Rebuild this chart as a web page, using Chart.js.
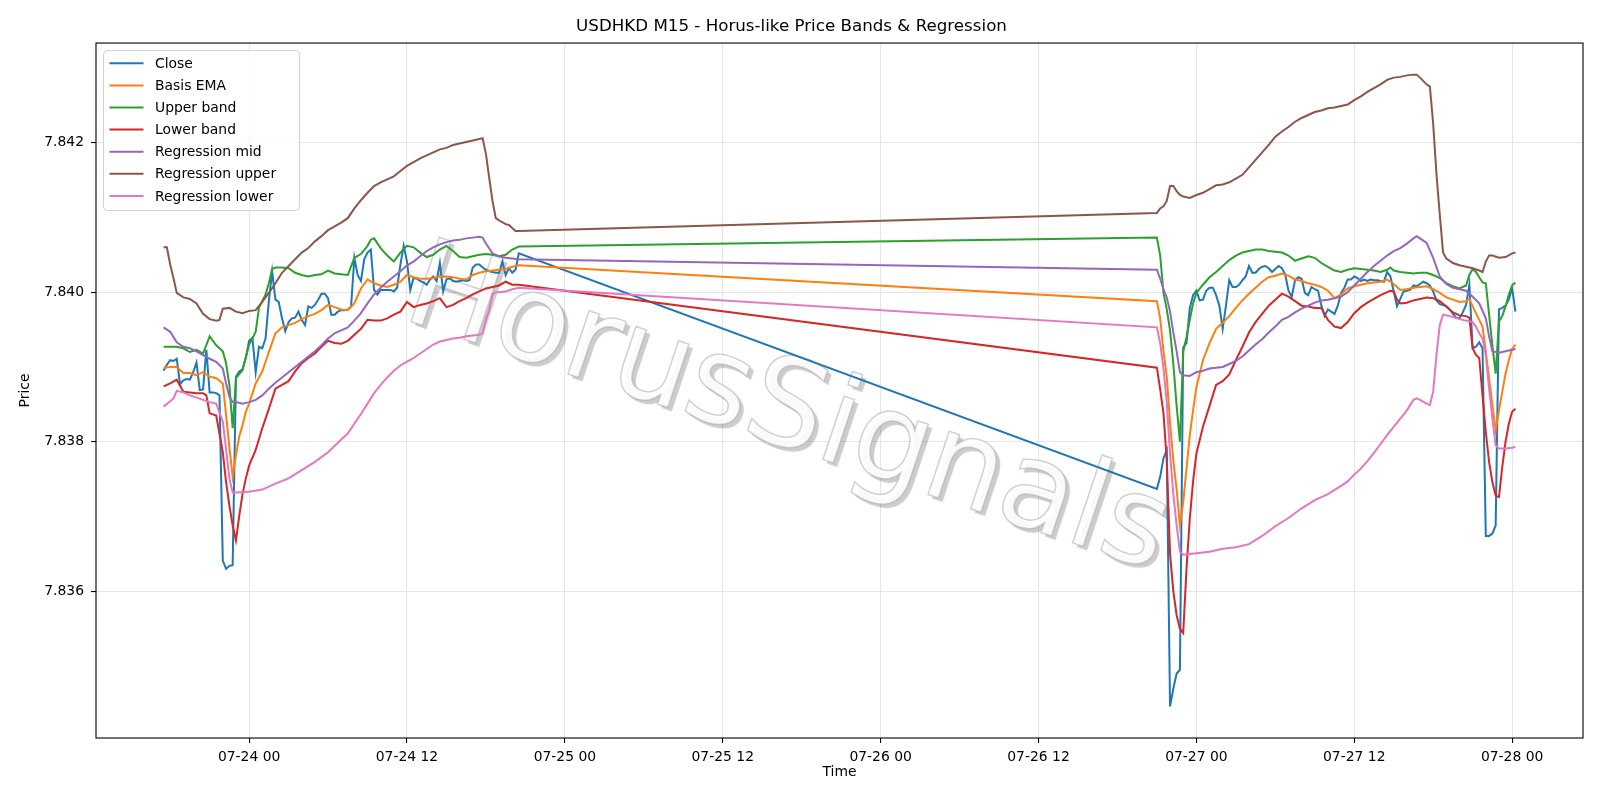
<!DOCTYPE html>
<html>
<head>
<meta charset="utf-8">
<title>USDHKD M15 - Horus-like Price Bands &amp; Regression</title>
<script src="https://cdn.jsdelivr.net/npm/chart.js@4.4.1/dist/chart.umd.min.js"></script>
<style>
  html, body { margin: 0; padding: 0; background: #fff; }
  #wrap { width: 1600px; height: 800px; }
</style>
</head>
<body>
<div id="wrap"><canvas id="chart" width="1600" height="800"></canvas></div>
<script>
// Time is in hours counted from 07-24 00:00, [hour, price]
const closeData = [
  [-6.5,7.83895],[-6.25,7.83903],[-6,7.83909],[-5.75,7.83908],[-5.5,7.83911],[-5.25,7.83877],[-5,7.83882],[-4.75,7.83884],
  [-4.5,7.83883],[-4.25,7.83893],[-4,7.83906],[-3.75,7.83869],[-3.5,7.8387],[-3.25,7.83923],[-3,7.83866],[-2.75,7.83866],
  [-2.5,7.83865],[-2.25,7.83862],[-2,7.83641],[-1.75,7.8363],[-1.5,7.83634],[-1.25,7.83635],[-1,7.83887],[-0.75,7.83894],
  [-0.5,7.83897],[-0.25,7.83912],[0,7.83935],[0.25,7.83939],[0.5,7.83893],[0.75,7.83927],[1,7.83925],[1.25,7.83938],
  [1.5,7.83988],[1.75,7.84028],[2,7.8399],[2.25,7.83987],[2.5,7.83965],[2.75,7.83948],[3,7.8396],[3.25,7.83965],
  [3.5,7.83966],[3.75,7.83974],[4,7.83963],[4.25,7.83956],[4.5,7.83981],[4.75,7.83979],[5,7.83983],[5.25,7.8399],
  [5.5,7.83998],[5.75,7.83998],[6,7.83992],[6.25,7.8397],[6.5,7.8397],[6.75,7.83974],[7,7.83976],[7.25,7.83976],
  [7.5,7.83977],[7.75,7.83981],[8,7.84046],[8.25,7.84023],[8.5,7.84015],[8.75,7.84044],[9,7.84053],[9.25,7.84057],
  [9.5,7.84003],[9.75,7.83997],[10,7.84003],[10.25,7.84003],[10.5,7.84003],[10.75,7.84003],[11,7.84001],[11.25,7.84006],
  [11.5,7.84037],[11.75,7.84062],[12,7.84041],[12.25,7.84003],[12.5,7.84019],[12.75,7.84018],[13,7.84015],[13.25,7.84013],
  [13.5,7.8401],[13.75,7.84017],[14,7.84021],[14.25,7.84015],[14.5,7.84039],[14.75,7.84001],[15,7.84017],[15.25,7.84019],
  [15.5,7.84015],[15.75,7.84014],[16,7.84015],[16.25,7.84016],[16.5,7.84015],[16.75,7.84016],[17,7.84033],[17.25,7.84037],
  [17.5,7.84037],[17.75,7.84033],[18,7.8403],[18.25,7.84028],[18.5,7.84027],[18.75,7.84026],[19,7.84026],[19.25,7.84041],
  [19.5,7.84023],[19.75,7.84032],[20,7.84026],[20.25,7.8403],[20.5,7.84052],
  [69,7.83737],[69.25,7.83753],[69.5,7.83778],[69.75,7.83789],[70,7.83446],[70.25,7.8347],[70.5,7.8349],[70.75,7.83495],
  [71,7.83926],[71.25,7.83932],[71.5,7.83979],[71.75,7.83996],[72,7.84002],[72.25,7.83989],[72.5,7.8399],[72.75,7.84002],
  [73,7.84006],[73.25,7.84006],[73.5,7.83996],[73.75,7.83982],[74,7.83951],[74.25,7.83982],[74.5,7.84016],[74.75,7.84007],
  [75,7.84007],[75.25,7.8401],[75.5,7.84016],[75.75,7.84021],[76,7.84035],[76.25,7.84026],[76.5,7.84026],[76.75,7.84031],
  [77,7.84034],[77.25,7.84035],[77.5,7.84032],[77.75,7.84027],[78,7.84031],[78.25,7.84035],[78.5,7.84032],[78.75,7.84024],
  [79,7.84002],[79.25,7.83994],[79.5,7.84016],[79.75,7.8402],[80,7.84018],[80.25,7.83999],[80.5,7.83996],[80.75,7.84007],
  [81,7.84004],[81.25,7.84002],[81.5,7.83982],[81.75,7.83968],[82,7.83977],[82.25,7.83974],[82.5,7.83971],[82.75,7.83982],
  [83,7.83999],[83.25,7.84006],[83.5,7.84017],[83.75,7.84017],[84,7.84021],[84.25,7.84019],[84.5,7.84015],[84.75,7.84017],
  [85,7.84015],[85.25,7.84017],[85.5,7.84016],[85.75,7.84016],[86,7.84015],[86.25,7.84014],[86.5,7.84027],[86.75,7.84021],
  [87,7.84001],[87.25,7.83981],[87.5,7.83991],[87.75,7.84001],[88,7.84002],[88.25,7.84003],[88.5,7.84009],[88.75,7.84008],
  [89,7.84011],[89.25,7.84014],[89.5,7.84012],[89.75,7.84009],[90,7.84001],[90.25,7.83989],[90.5,7.83984],[90.75,7.83983],
  [91,7.83981],[91.25,7.83977],[91.5,7.83971],[91.75,7.83966],[92,7.83965],[92.25,7.83973],[92.5,7.83983],[92.75,7.8401],
  [93,7.83925],[93.25,7.83927],[93.5,7.83933],[93.75,7.83925],[94,7.83674],[94.25,7.83674],[94.5,7.83677],[94.75,7.83688],
  [95,7.83977],[95.25,7.83979],[95.5,7.83982],[95.75,7.8399],[96,7.84006],[96.25,7.83974]
];

const emaData = [
  [-6.5,7.83899],[-6,7.839],[-5.5,7.839],[-5,7.83892],[-4.5,7.83892],[-4,7.83889],[-3.5,7.83893],[-3,7.83887],
  [-2.5,7.83885],[-2,7.83878],[-1.75,7.83836],[-1.5,7.83793],[-1.25,7.83753],[-1,7.83782],[-0.75,7.83807],[-0.5,7.83822],
  [-0.25,7.8384],[0,7.83851],[0.5,7.83878],[1,7.83894],[1.5,7.8392],[2,7.83945],[2.5,7.83953],[3,7.83956],
  [3.5,7.83959],[4,7.83964],[4.5,7.83968],[5,7.83971],[5.5,7.83976],[6,7.83983],[6.5,7.8398],[7,7.83977],
  [7.5,7.83976],[8,7.83985],[8.5,7.84005],[9,7.84017],[9.5,7.84012],[10,7.84009],[10.5,7.84007],[11,7.8401],
  [11.5,7.84014],[12,7.84023],[12.5,7.8402],[13,7.84018],[13.5,7.84018],[14,7.84019],[14.5,7.84021],[15,7.84021],
  [15.5,7.8402],[16,7.84018],[16.5,7.84017],[17,7.84023],[17.5,7.84026],[18,7.84028],[18.5,7.84029],[19,7.8403],
  [19.5,7.84031],[20,7.84034],[20.5,7.84036],
  [69,7.83988],[69.25,7.83965],[69.5,7.83921],[69.75,7.83887],[70,7.83825],[70.25,7.83775],[70.5,7.83736],[70.75,7.83688],
  [71,7.83719],[71.25,7.83764],[71.5,7.83809],[71.75,7.83842],[72,7.83873],[72.5,7.83909],[73,7.83932],[73.5,7.83951],
  [74,7.83959],[74.5,7.83968],[75,7.83979],[75.5,7.83989],[76,7.83998],[76.5,7.84006],[77,7.84014],[77.5,7.8402],
  [78,7.84022],[78.5,7.84025],[79,7.84022],[79.5,7.84017],[80,7.84015],[80.5,7.84012],[81,7.8401],[81.5,7.84007],
  [82,7.84002],[82.5,7.83992],[83,7.83997],[83.5,7.84005],[84,7.84008],[84.5,7.8401],[85,7.84012],[85.5,7.84013],
  [86,7.84014],[86.5,7.84017],[87,7.84011],[87.5,7.84003],[88,7.84004],[88.5,7.84006],[89,7.84007],[89.5,7.84008],
  [90,7.84004],[90.5,7.83999],[91,7.83993],[91.5,7.8399],[92,7.83987],[92.5,7.83988],[92.75,7.83991],[93,7.83981],
  [93.25,7.83972],[93.5,7.83963],[93.75,7.83954],[94,7.83921],[94.25,7.83885],[94.5,7.83849],[94.75,7.83815],[95,7.83842],
  [95.25,7.83867],[95.5,7.83891],[95.75,7.83909],[96,7.83924],[96.25,7.8393]
];

const upperData = [
  [-6.5,7.83927],[-6,7.83927],[-5.5,7.83927],[-5,7.83925],[-4.5,7.8392],[-4,7.83923],[-3.5,7.83918],[-3,7.83941],
  [-2.5,7.83929],[-2,7.83921],[-1.75,7.83905],[-1.5,7.83876],[-1.25,7.83818],[-1,7.83885],[-0.5,7.83896],[0,7.8393],
  [0.25,7.83938],[0.5,7.83947],[0.75,7.83979],[1,7.83988],[1.25,7.83997],[1.5,7.84012],[1.75,7.84031],[2,7.84033],
  [2.5,7.84033],[3,7.84032],[3.5,7.84026],[4,7.84023],[4.5,7.84021],[5,7.84023],[5.5,7.84024],[6,7.84029],
  [6.5,7.84025],[7,7.84024],[7.5,7.84023],[8,7.84046],[8.5,7.84051],[9,7.84062],[9.25,7.8407],[9.5,7.84072],
  [10,7.84059],[10.5,7.84049],[11,7.84041],[11.5,7.84053],[12,7.84062],[12.5,7.8406],[13,7.84053],[13.5,7.84047],
  [14,7.8405],[14.5,7.84057],[15,7.84062],[15.5,7.84055],[16,7.84047],[16.5,7.84046],[17,7.84048],[17.5,7.8405],
  [18,7.84051],[18.5,7.8405],[19,7.84048],[19.5,7.8405],[20,7.84057],[20.5,7.84061],
  [69,7.84073],[69.25,7.84049],[69.5,7.83999],[69.75,7.83977],[70,7.83949],[70.25,7.83904],[70.5,7.83848],[70.75,7.838],
  [71,7.83921],[71.25,7.8394],[71.5,7.83963],[71.75,7.83985],[72,7.83999],[72.5,7.8401],[73,7.8402],[73.5,7.84027],
  [74,7.84035],[74.5,7.84043],[75,7.84049],[75.5,7.84053],[76,7.84055],[76.5,7.84057],[77,7.84057],[77.5,7.84055],
  [78,7.84054],[78.5,7.84053],[79,7.84049],[79.5,7.84042],[80,7.84045],[80.5,7.84048],[81,7.84046],[81.5,7.84039],
  [82,7.84034],[82.5,7.84029],[83,7.84027],[83.5,7.8403],[84,7.84032],[84.5,7.84031],[85,7.8403],[85.5,7.84029],
  [86,7.84027],[86.5,7.8403],[86.75,7.84033],[87,7.84029],[87.5,7.84027],[88,7.84026],[88.5,7.84025],[89,7.84026],
  [89.5,7.84026],[90,7.84023],[90.5,7.84019],[91,7.84012],[91.5,7.84008],[92,7.84005],[92.5,7.84009],[92.75,7.84023],
  [93,7.84031],[93.25,7.84027],[93.5,7.8402],[93.75,7.84013],[94,7.84012],[94.25,7.8397],[94.5,7.83929],[94.75,7.83891],
  [95,7.83961],[95.25,7.83968],[95.5,7.83981],[95.75,7.83997],[96,7.84009],[96.25,7.84013]
];

const lowerData = [
  [-6.5,7.83874],[-6,7.83878],[-5.5,7.83883],[-5,7.83867],[-4.5,7.83866],[-4,7.83865],[-3.5,7.83865],[-3.25,7.83862],
  [-3,7.83838],[-2.5,7.83835],[-2,7.83786],[-1.75,7.83746],[-1.5,7.83715],[-1.25,7.83688],[-1,7.83668],[-0.75,7.83701],
  [-0.5,7.8373],[-0.25,7.83751],[0,7.83768],[0.5,7.83789],[1,7.83818],[1.5,7.83844],[2,7.83871],[2.5,7.83876],
  [3,7.83881],[3.5,7.83894],[4,7.83905],[4.5,7.83912],[5,7.83918],[5.5,7.83927],[6,7.83935],[6.5,7.83932],
  [7,7.83931],[7.5,7.83935],[8,7.83943],[8.5,7.83951],[9,7.83963],[9.5,7.83962],[10,7.83962],[10.5,7.83965],
  [11,7.8397],[11.5,7.83974],[12,7.83987],[12.5,7.8398],[13,7.83983],[13.5,7.83985],[14,7.83988],[14.5,7.83992],
  [15,7.8398],[15.5,7.83983],[16,7.83988],[16.5,7.83992],[17,7.83997],[17.5,7.84001],[18,7.84005],[18.5,7.84007],
  [19,7.84009],[19.5,7.84014],[20,7.8401],[20.5,7.8401],
  [69,7.83899],[69.25,7.8387],[69.5,7.83838],[69.75,7.83775],[70,7.8365],[70.25,7.836],[70.5,7.83568],[70.75,7.8355],
  [71,7.83544],[71.25,7.8363],[71.5,7.83697],[71.75,7.83747],[72,7.83784],[72.5,7.8382],[73,7.83848],[73.5,7.83876],
  [74,7.83881],[74.5,7.8389],[75,7.83909],[75.5,7.83927],[76,7.83946],[76.5,7.8396],[77,7.83971],[77.5,7.83982],
  [78,7.8399],[78.5,7.83998],[79,7.83994],[79.5,7.83988],[80,7.83982],[80.5,7.83981],[81,7.83979],[81.5,7.83979],
  [82,7.83963],[82.5,7.83954],[83,7.83952],[83.5,7.8396],[84,7.83972],[84.5,7.8398],[85,7.83986],[85.5,7.83991],
  [86,7.83996],[86.5,7.84],[86.75,7.84002],[87,7.84001],[87.25,7.8399],[87.5,7.83985],[88,7.83986],[88.5,7.83989],
  [89,7.83991],[89.5,7.83993],[90,7.83992],[90.5,7.83988],[91,7.83981],[91.5,7.83973],[92,7.83969],[92.5,7.83968],
  [92.75,7.83966],[93,7.83925],[93.25,7.83916],[93.5,7.83912],[93.75,7.83862],[94,7.83813],[94.25,7.83773],[94.5,7.83746],
  [94.75,7.83728],[95,7.83726],[95.25,7.83766],[95.5,7.838],[95.75,7.83824],[96,7.8384],[96.25,7.83844]
];

const regMidData = [
  [-6.5,7.83953],[-6,7.83947],[-5.5,7.83933],[-5,7.83927],[-4.5,7.83925],[-4,7.83921],[-3.5,7.83916],[-3,7.83911],
  [-2.5,7.83907],[-2,7.83898],[-1.75,7.83878],[-1.5,7.8386],[-1.25,7.83853],[-1,7.83853],[-0.5,7.83851],[0,7.83853],
  [0.5,7.83856],[1,7.83862],[1.5,7.83871],[2,7.83879],[2.5,7.83886],[3,7.83893],[3.5,7.839],[4,7.83907],
  [4.5,7.83914],[5,7.83921],[5.5,7.83929],[6,7.83938],[6.5,7.83945],[7,7.83949],[7.5,7.83953],[8,7.83962],
  [8.5,7.83972],[9,7.83985],[9.5,7.83997],[10,7.84006],[10.5,7.84014],[11,7.84021],[11.5,7.84028],[12,7.84036],
  [12.5,7.84041],[13,7.84048],[13.5,7.84055],[14,7.8406],[14.5,7.84064],[15,7.84067],[15.5,7.84069],[16,7.8407],
  [16.5,7.84072],[17,7.84073],[17.5,7.84074],[17.75,7.84073],[18,7.84065],[18.5,7.84052],[19,7.84048],[19.5,7.84046],
  [20,7.84045],[20.5,7.84044],
  [69,7.8403],[69.25,7.84018],[69.5,7.84004],[69.75,7.83993],[70,7.83974],[70.25,7.83946],[70.5,7.83921],[70.75,7.83893],
  [71,7.83889],[71.5,7.83888],[72,7.83893],[72.5,7.83895],[73,7.83898],[73.5,7.83899],[74,7.839],[74.5,7.83904],
  [75,7.83908],[75.5,7.83914],[76,7.83922],[76.5,7.8393],[77,7.83937],[77.5,7.83946],[78,7.83954],[78.5,7.83963],
  [79,7.83967],[79.5,7.83973],[80,7.83978],[80.5,7.83982],[81,7.83986],[81.5,7.83989],[82,7.8399],[82.5,7.83992],
  [83,7.83994],[83.5,7.84],[84,7.84009],[84.5,7.84018],[85,7.84027],[85.5,7.84035],[86,7.84042],[86.5,7.84049],
  [87,7.84055],[87.5,7.84059],[88,7.84065],[88.5,7.84072],[88.75,7.84075],[89,7.84072],[89.5,7.84066],[90,7.84046],
  [90.5,7.84021],[91,7.84011],[91.5,7.84006],[92,7.84004],[92.5,7.84002],[93,7.83994],[93.5,7.83985],[94,7.83965],
  [94.25,7.83941],[94.5,7.83921],[95,7.83919],[95.5,7.83921],[96,7.83923],[96.25,7.83924]
];

const regUpperData = [
  [-6.5,7.8406],[-6.25,7.8406],[-6,7.84037],[-5.75,7.84019],[-5.5,7.83999],[-5,7.83993],[-4.5,7.83991],[-4,7.83985],
  [-3.5,7.83971],[-3,7.83964],[-2.5,7.83962],[-2.25,7.83963],[-2,7.83978],[-1.5,7.83979],[-1,7.83974],[-0.5,7.83972],
  [0,7.83975],[0.5,7.83976],[1,7.83987],[1.5,7.83999],[2,7.84012],[2.5,7.84026],[3,7.84035],[3.5,7.84044],
  [4,7.84053],[4.5,7.84059],[5,7.84068],[5.5,7.84075],[6,7.84083],[6.5,7.84088],[7,7.84093],[7.5,7.84099],
  [8,7.84112],[8.5,7.84123],[9,7.84133],[9.5,7.84142],[10,7.84147],[10.5,7.84151],[11,7.84155],[11.5,7.84162],
  [12,7.84169],[12.5,7.84174],[13,7.84179],[13.5,7.84183],[14,7.84187],[14.5,7.84191],[15,7.84193],[15.5,7.84197],
  [16,7.84199],[16.5,7.84201],[17,7.84203],[17.5,7.84205],[17.75,7.84206],[18,7.84185],[18.25,7.84153],[18.5,7.84122],
  [18.75,7.84099],[19,7.84096],[19.5,7.84091],[19.75,7.8409],[20,7.84086],[20.25,7.84082],[20.5,7.84082],
  [69,7.84106],[69.25,7.84112],[69.5,7.84115],[69.75,7.84122],[70,7.84142],[70.25,7.84142],[70.5,7.84135],[70.75,7.8413],
  [71,7.84128],[71.5,7.84126],[72,7.8413],[72.5,7.84133],[73,7.84138],[73.5,7.84143],[74,7.84144],[74.5,7.84147],
  [75,7.84152],[75.5,7.84157],[76,7.84167],[76.5,7.84177],[77,7.84187],[77.5,7.84197],[78,7.84208],[78.5,7.84215],
  [79,7.84221],[79.5,7.84228],[80,7.84233],[80.5,7.84237],[81,7.84241],[81.5,7.84243],[82,7.84246],[82.5,7.84247],
  [83,7.84249],[83.5,7.84251],[84,7.84257],[84.5,7.84262],[85,7.84268],[85.5,7.84273],[86,7.84278],[86.5,7.84284],
  [87,7.84287],[87.5,7.84288],[88,7.8429],[88.5,7.84291],[88.75,7.84291],[89,7.84287],[89.5,7.84278],[89.75,7.84275],
  [90,7.84225],[90.25,7.84158],[90.5,7.84104],[90.75,7.84053],[91,7.84045],[91.5,7.84039],[92,7.84036],[92.5,7.84034],
  [93,7.84032],[93.5,7.84029],[93.75,7.84027],[94,7.84041],[94.25,7.84049],[94.5,7.84049],[95,7.84046],[95.5,7.84047],
  [96,7.84052],[96.25,7.84053]
];

const regLowerData = [
  [-6.5,7.83847],[-6,7.83854],[-5.75,7.83858],[-5.5,7.83868],[-5,7.83866],[-4.5,7.83862],[-4,7.83859],[-3.5,7.83856],
  [-3,7.83853],[-2.5,7.83851],[-2,7.83827],[-1.75,7.8379],[-1.5,7.83751],[-1.25,7.83732],[-1,7.83732],[0,7.83733],
  [1,7.83736],[2,7.83744],[3,7.83751],[4,7.83762],[5,7.83773],[6,7.83786],[7,7.83803],[7.5,7.83811],
  [8,7.83824],[8.5,7.83837],[9,7.83851],[9.5,7.83865],[10,7.83876],[10.5,7.83886],[11,7.83895],[11.5,7.83902],
  [12,7.83907],[12.5,7.83912],[13,7.83918],[13.5,7.83924],[14,7.8393],[14.5,7.83934],[15,7.83936],[15.5,7.83938],
  [16,7.83939],[16.5,7.83941],[17,7.83942],[17.5,7.83943],[17.75,7.83945],[18,7.83963],[18.25,7.83976],[18.5,7.83997],
  [18.75,7.84],[19,7.84],[19.5,7.84001],[20,7.84004],[20.5,7.84006],
  [69,7.83953],[69.25,7.83932],[69.5,7.83898],[69.75,7.83853],[70,7.83784],[70.25,7.8373],[70.5,7.83688],[70.75,7.83653],
  [71,7.83649],[72,7.83651],[73,7.83653],[74,7.83657],[75,7.83659],[76,7.83663],[77,7.83674],[78,7.83687],
  [79,7.83698],[80,7.83711],[81,7.83722],[82,7.8373],[83,7.83741],[83.5,7.83747],[84,7.83756],[84.5,7.83764],
  [85,7.83774],[85.5,7.83785],[86,7.83797],[86.5,7.83809],[87,7.8382],[87.5,7.83831],[88,7.83842],[88.5,7.83856],
  [88.75,7.83858],[89,7.83856],[89.5,7.83851],[89.75,7.83849],[90,7.83867],[90.25,7.83916],[90.5,7.83956],[90.75,7.8397],
  [91,7.83969],[91.5,7.83967],[92,7.83964],[92.5,7.83962],[93,7.8396],[93.25,7.83954],[93.5,7.83945],[93.75,7.83938],
  [94,7.83916],[94.25,7.83871],[94.5,7.83831],[94.75,7.83795],[95,7.83791],[95.5,7.83791],[96,7.83792],[96.25,7.83793]
];

const seriesNames = ['Close', 'Basis EMA', 'Upper band', 'Lower band', 'Regression mid', 'Regression upper', 'Regression lower'];
const seriesColors = ['#1f77b4', '#ff7f0e', '#2ca02c', '#d62728', '#9467bd', '#8c564b', '#e377c2'];
const allSeries = [closeData, emaData, upperData, lowerData, regMidData, regUpperData, regLowerData];

const timeTicks = [0, 12, 24, 36, 48, 60, 72, 84, 96];
const priceTicks = [7.836, 7.838, 7.840, 7.842];

const FONT = 'DejaVu Sans';

function timeLabel(h) {
    const day = 24 + Math.floor(h / 24);
    const hour = ((h % 24) + 24) % 24;
    return '07-' + day + ' ' + String(hour).padStart(2, '0');
}

// matplotlib-like 5% margins around the data
function withMargin(values) {
    const lo = Math.min(...values), hi = Math.max(...values);
    const pad = (hi - lo) * 0.05;
    return [lo - pad, hi + pad];
}
const [xMin, xMax] = withMargin(allSeries.flat().map(p => p[0]));
const [yMin, yMax] = withMargin(allSeries.flat().map(p => p[1]));

// Watermark behind the lines (tilted downwards to the right)
const watermark = {
    id: 'watermark',
    beforeDatasetsDraw(chart) {
        const ctx = chart.ctx;
        ctx.save();
        ctx.translate(787, 414);
        ctx.rotate(18.5 * Math.PI / 180);
        ctx.font = '122px "' + FONT + '"';
        ctx.textAlign = 'center';
        ctx.textBaseline = 'middle';
        ctx.shadowColor = 'rgba(0,0,0,0.22)';
        ctx.shadowOffsetX = 4;
        ctx.shadowOffsetY = 4;
        ctx.shadowBlur = 1;
        ctx.fillStyle = 'rgba(255,255,255,0.9)';
        ctx.fillText('HorusSignals', 0, 0);
        ctx.shadowColor = 'transparent';
        ctx.lineWidth = 1.5;
        ctx.strokeStyle = 'rgba(165,165,165,0.5)';
        ctx.strokeText('HorusSignals', 0, 0);
        ctx.restore();
    }
};

// Axes frame + legend box, drawn on top
const frameAndLegend = {
    id: 'frameAndLegend',
    afterDraw(chart) {
        const ctx = chart.ctx;
        const a = chart.chartArea;
        ctx.save();
        ctx.strokeStyle = '#000';
        ctx.lineWidth = 1.1;
        ctx.strokeRect(a.left, a.top, a.right - a.left, a.bottom - a.top);

        // legend
        const x = 103.5, y = 50.5, w = 196, h = 160, r = 4;
        ctx.beginPath();
        ctx.roundRect(x, y, w, h, r);
        ctx.fillStyle = 'rgba(255,255,255,0.8)';
        ctx.fill();
        ctx.strokeStyle = 'rgba(204,204,204,0.9)';
        ctx.lineWidth = 1;
        ctx.stroke();

        ctx.font = '13.9px "' + FONT + '"';
        ctx.textBaseline = 'middle';
        ctx.textAlign = 'left';
        chart.data.datasets.forEach((ds, i) => {
            const rowY = 63.3 + i * 22.1;
            ctx.strokeStyle = ds.borderColor;
            ctx.lineWidth = 2;
            ctx.beginPath();
            ctx.moveTo(109.5, rowY);
            ctx.lineTo(143.5, rowY);
            ctx.stroke();
            ctx.fillStyle = '#000';
            ctx.fillText(ds.label, 155, rowY + 1);
        });
        ctx.restore();
    }
};

const datasets = allSeries.map((series, i) => ({
    label: seriesNames[i],
    data: series.map(p => ({ x: p[0], y: p[1] })),
    borderColor: seriesColors[i],
    backgroundColor: seriesColors[i],
    borderWidth: 2,
    pointRadius: 0,
    tension: 0,
    fill: false,
    order: allSeries.length - i
}));

const tickFont = { family: FONT, size: 13.9 };
const gridStyle = { color: '#e6e6e6', lineWidth: 1.1, tickColor: '#000', tickLength: 5, tickWidth: 1.1 };

new Chart(document.getElementById('chart'), {
    type: 'line',
    data: { datasets },
    options: {
        responsive: false,
        animation: false,
        devicePixelRatio: 1,
        layout: { padding: { left: 0, right: 17, top: 0, bottom: 0 } },
        plugins: {
            legend: { display: false },
            tooltip: { enabled: false },
            title: {
                display: true,
                text: 'USDHKD M15 - Horus-like Price Bands & Regression',
                color: '#000',
                font: { family: FONT, size: 16.7, weight: 'normal' },
                padding: { top: 16.9, bottom: 6.1 }
            }
        },
        scales: {
            x: {
                type: 'linear',
                min: xMin,
                max: xMax,
                afterBuildTicks: axis => { axis.ticks = timeTicks.map(v => ({ value: v })); },
                afterFit: axis => { axis.height = 62; },
                ticks: {
                    callback: v => timeLabel(v),
                    font: tickFont,
                    color: '#000',
                    padding: 6,
                    maxRotation: 0,
                    autoSkip: false
                },
                grid: gridStyle,
                border: { display: false },
                title: {
                    display: true,
                    text: 'Time',
                    color: '#000',
                    font: tickFont,
                    padding: { top: 0, bottom: 19.5 }
                }
            },
            y: {
                type: 'linear',
                min: yMin,
                max: yMax,
                afterBuildTicks: axis => { axis.ticks = priceTicks.map(v => ({ value: v })); },
                afterFit: axis => { axis.width = 96; },
                ticks: {
                    callback: v => v.toFixed(3),
                    font: tickFont,
                    color: '#000',
                    padding: 7
                },
                grid: gridStyle,
                border: { display: false },
                title: {
                    display: true,
                    text: 'Price',
                    color: '#000',
                    font: tickFont,
                    padding: { top: 17.2, bottom: 0 }
                }
            }
        }
    },
    plugins: [watermark, frameAndLegend]
});
</script>
</body>
</html>
